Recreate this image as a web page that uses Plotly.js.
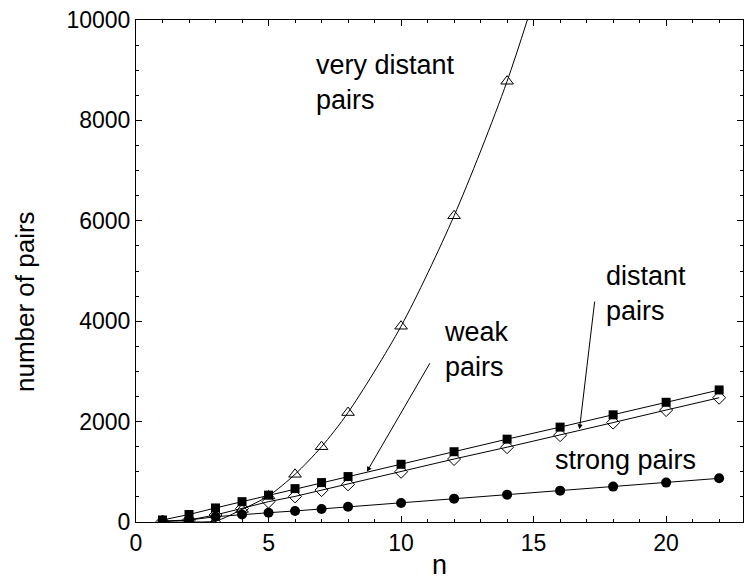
<!DOCTYPE html>
<html>
<head>
<meta charset="utf-8">
<script src="https://cdn.plot.ly/plotly-3.0.1.min.js"></script>
<style>html,body{margin:0;padding:0;background:#fff;}#chart{width:744px;height:581px;}</style>
</head>
<body>
<div id="chart"></div>
<script>
// n values
const nStrong = [1, 2, 3, 4, 5, 6, 7, 8, 10, 12, 14, 16, 18, 20, 22];
const strongPairs = [20, 40, 105, 150, 185, 220, 260, 305, 380, 465, 545, 625, 705, 785, 870];
const distantPairs = [40, 150, 280, 405, 535, 665, 785, 905, 1150, 1400, 1650, 1890, 2135, 2385, 2630];
const weakPairs = [10, 40, 140, 270, 405, 510, 635, 750, 1000, 1255, 1490, 1730, 1980, 2230, 2475];
const nVeryDistant = [1, 2, 3, 4, 5, 6, 7, 8, 10, 12, 14, 16];
const veryDistantPairs = [0, 0, 20, 250, 520, 950, 1500, 2180, 3900, 6100, 8780, 12100];

const xTickVals = [0, 5, 10, 15, 20];
const yTickVals = [0, 2000, 4000, 6000, 8000, 10000];

const FONT = 'Liberation Sans, Arial, Helvetica, sans-serif';
const lineStyle = {color: '#000', width: 1};

const traces = [
  {x: nStrong, y: strongPairs, mode: 'lines+markers', line: lineStyle,
   marker: {symbol: 'circle', size: 10, color: '#000'}},
  {x: nStrong, y: distantPairs, mode: 'lines+markers', line: lineStyle,
   marker: {symbol: 'square', size: 9, color: '#000'}},
  {x: nStrong, y: weakPairs, mode: 'lines+markers', line: lineStyle,
   marker: {symbol: 'diamond-open', size: 10, color: '#000', line: {width: 1}}},
  {x: nVeryDistant, y: veryDistantPairs, mode: 'lines+markers',
   line: {color: '#000', width: 1, shape: 'spline', smoothing: 0.8},
   marker: {symbol: 'triangle-up-open', size: 11, color: '#000', line: {width: 1}}}
];

const axisCommon = {
  showline: true, linecolor: '#000', linewidth: 1, mirror: 'ticks',
  ticks: 'inside', ticklen: 6, tickcolor: '#000', tickwidth: 1,
  showgrid: false, zeroline: false,
  tickfont: {family: FONT, size: 23, color: '#000'}
};

const layout = {
  width: 744, height: 581,
  margin: {l: 136, r: 1, t: 20, b: 59},
  paper_bgcolor: '#fff', plot_bgcolor: '#fff',
  showlegend: false,
  font: {family: FONT, color: '#000'},
  xaxis: Object.assign({}, axisCommon, {
    range: [0, 22.9], tickvals: xTickVals, ticktext: xTickVals.map(String),
    minor: {ticks: 'inside', ticklen: 3, dtick: 1, tick0: 0, tickcolor: '#000'},
    title: {text: 'n', font: {family: FONT, size: 27, color: '#000'}, standoff: 0}
  }),
  yaxis: Object.assign({}, axisCommon, {
    range: [0, 10000], tickvals: yTickVals, ticktext: yTickVals.map(String),
    minor: {ticks: 'inside', ticklen: 3, dtick: 500, tick0: 0, tickcolor: '#000'}
  }),
  annotations: [
    {x: -0.183, y: 0.44, xref: 'paper', yref: 'paper', text: 'number of pairs', textangle: -90,
     showarrow: false, xanchor: 'center', yanchor: 'middle', font: {family: FONT, size: 26, color: '#000'}},
    {x: 6.72, y: 8750, xref: 'x', yref: 'y', text: 'very distant<br>pairs', showarrow: false,
     xanchor: 'left', yanchor: 'middle', align: 'left', font: {family: FONT, size: 27, color: '#000'}},
    {x: 11.55, y: 3430, xref: 'x', yref: 'y', text: 'weak<br>pairs', showarrow: false,
     xanchor: 'left', yanchor: 'middle', align: 'left', font: {family: FONT, size: 27, color: '#000'}},
    {x: 17.66, y: 4560, xref: 'x', yref: 'y', text: 'distant<br>pairs', showarrow: false,
     xanchor: 'left', yanchor: 'middle', align: 'left', font: {family: FONT, size: 27, color: '#000'}},
    {x: 15.74, y: 1235, xref: 'x', yref: 'y', text: 'strong pairs', showarrow: false,
     xanchor: 'left', yanchor: 'middle', align: 'left', font: {family: FONT, size: 27, color: '#000'}},
    {x: 8.71, y: 1002, xref: 'x', yref: 'y', ax: 11.12, ay: 3193, axref: 'x', ayref: 'y',
     text: '', showarrow: true, arrowhead: 2, arrowsize: 1, arrowwidth: 1, arrowcolor: '#000', standoff: 0},
    {x: 16.73, y: 1846, xref: 'x', yref: 'y', ax: 17.31, ay: 4420, axref: 'x', ayref: 'y',
     text: '', showarrow: true, arrowhead: 2, arrowsize: 1, arrowwidth: 1, arrowcolor: '#000', standoff: 0}
  ]
};

Plotly.newPlot('chart', traces, layout, {staticPlot: true, displayModeBar: false});
</script>
</body>
</html>
